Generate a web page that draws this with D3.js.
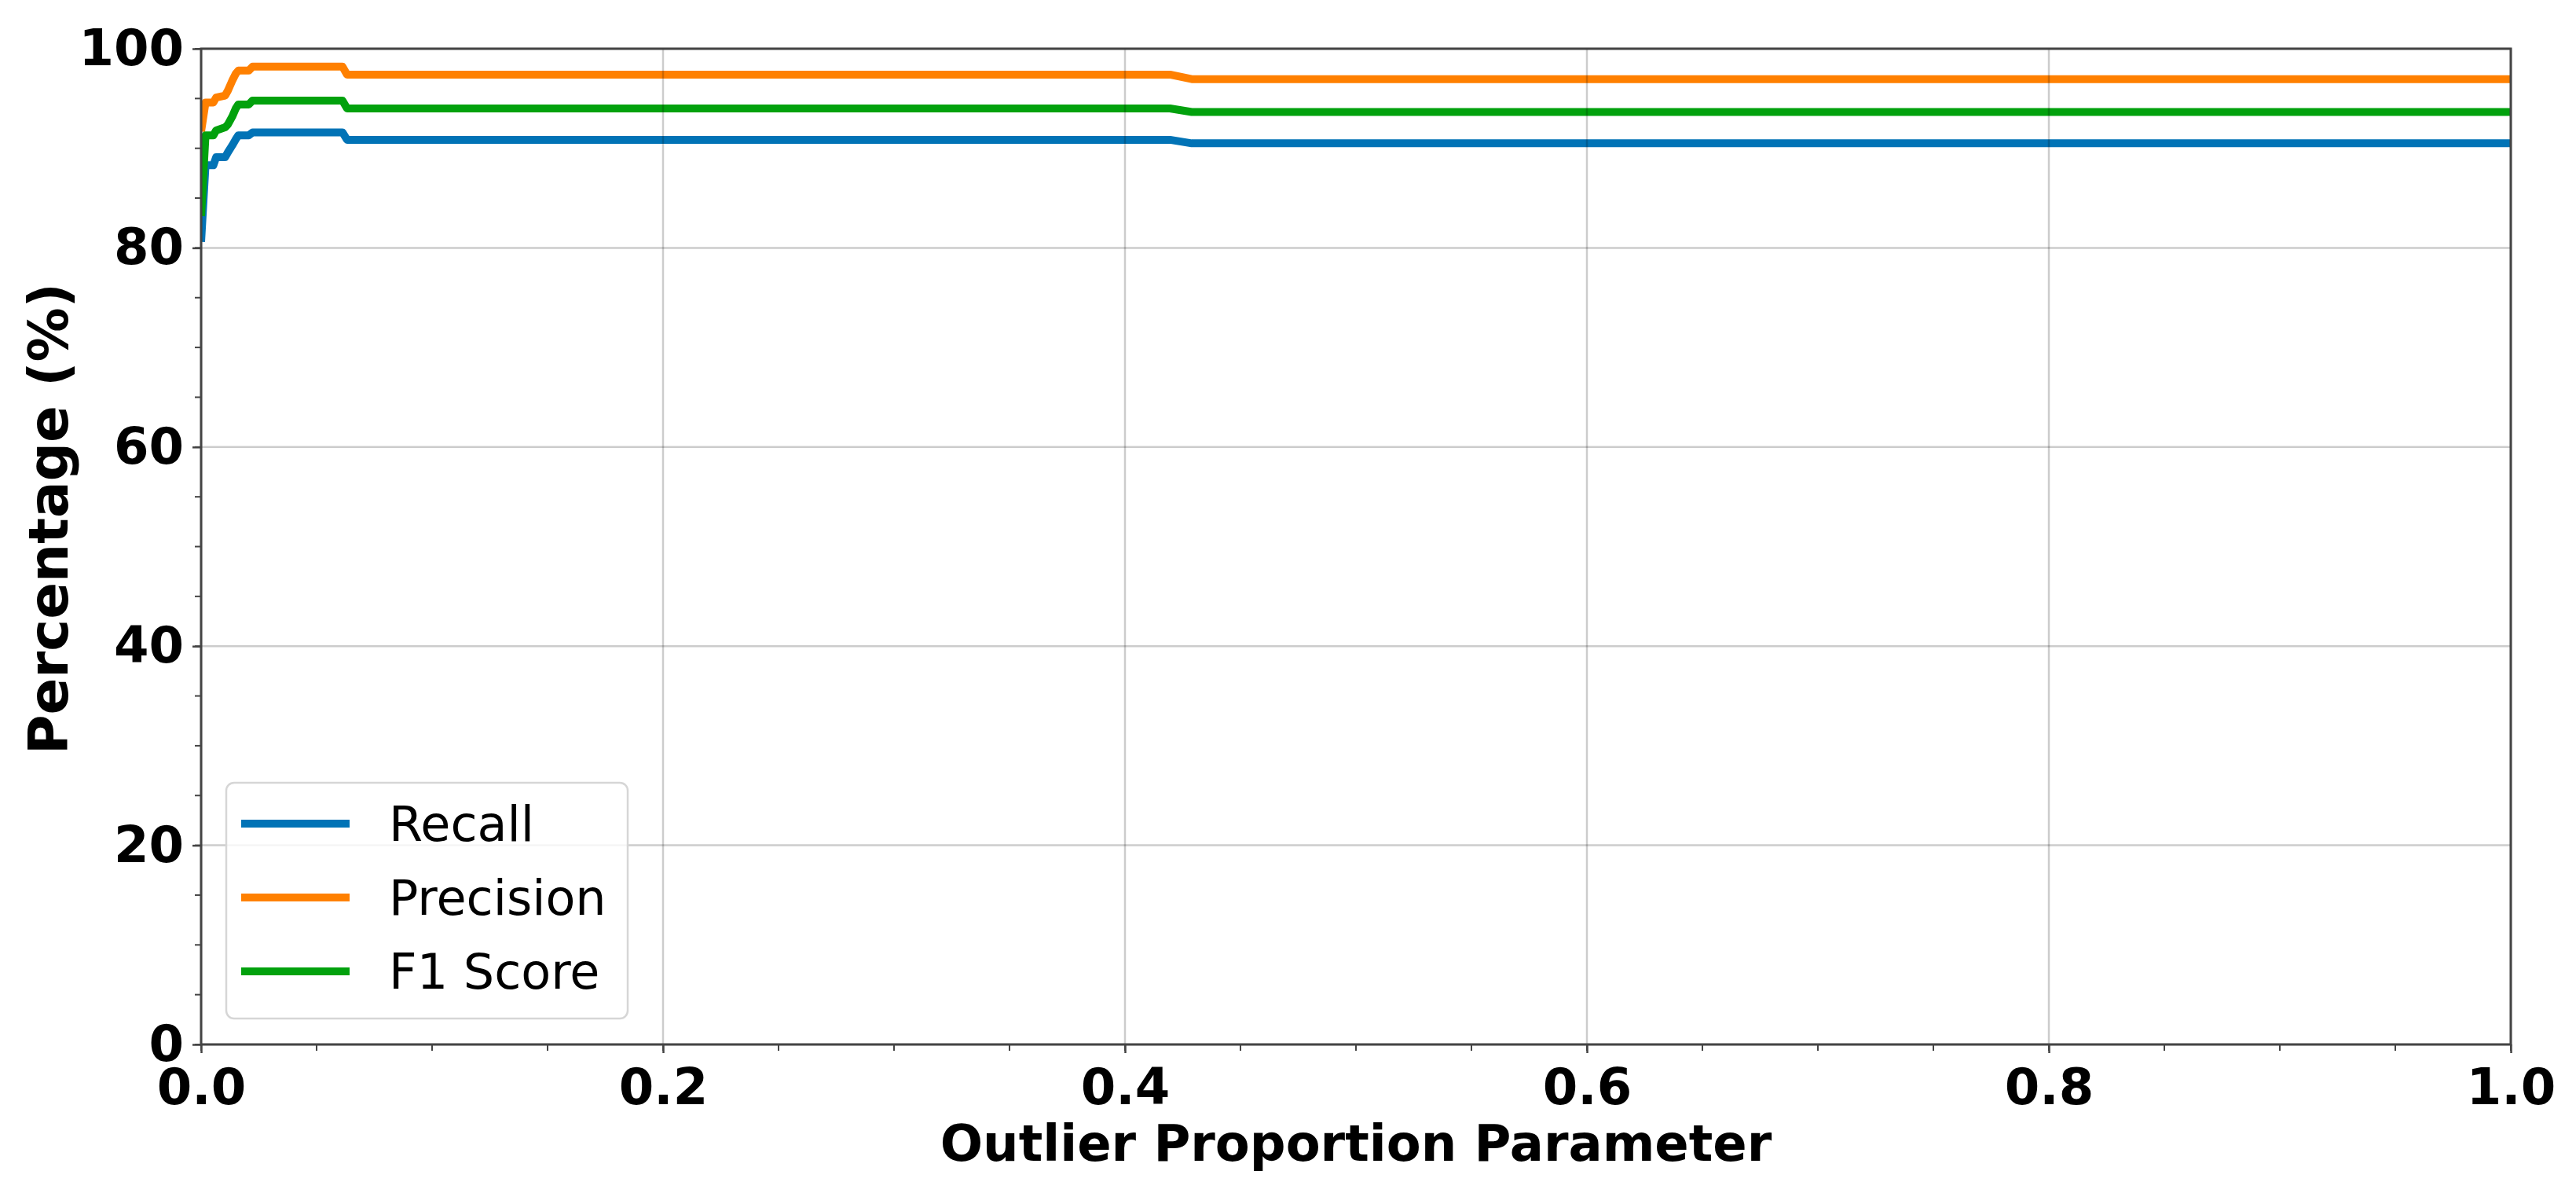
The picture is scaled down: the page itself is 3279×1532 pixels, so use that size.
<!DOCTYPE html>
<html>
<head>
<meta charset="utf-8">
<script src="https://cdn.jsdelivr.net/npm/d3@7"></script>
<style>
  html, body { margin: 0; padding: 0; background: #fff; }
  svg { display: block; }
  text { font-family: "DejaVu Sans", sans-serif; }
</style>
</head>
<body>
<svg id="chart" width="3279" height="1532"></svg>
<script>
// ---- data ----
const xValues   = [0, 0.0019, 0.0053, 0.0065, 0.0104, 0.0116, 0.0135, 0.015, 0.0161, 0.0206, 0.0223, 0.0612, 0.0632, 0.4195, 0.4289, 1.0];
const recall    = [80.6, 88.3, 88.3, 89.1, 89.1, 89.6, 90.3, 90.9, 91.3, 91.3, 91.6, 91.6, 90.85, 90.85, 90.5, 90.5];
const precision = [91.7, 94.6, 94.6, 95.1, 95.3, 95.8, 96.8, 97.5, 97.8, 97.8, 98.2, 98.2, 97.4, 97.4, 96.95, 96.95];
const f1score   = [83.2, 91.3, 91.3, 91.8, 92.1, 92.4, 93.2, 94.0, 94.4, 94.4, 94.8, 94.8, 94.0, 94.0, 93.65, 93.65];
const seriesNames = ["Recall", "Precision", "F1 Score"];
const xTicks = [0, 0.2, 0.4, 0.6, 0.8, 1.0];
const yTicks = [0, 20, 40, 60, 80, 100];
const xMinorTicks = d3.range(0, 1.0001, 0.05);
const yMinorTicks = d3.range(0, 100.001, 5);
const xLabel = "Outlier Proportion Parameter";
const yLabel = "Percentage (%)";

// ---- styles / layout ----
const colors = ["#0173b6", "#ff8000", "#02a10d"];
const M = {left: 256, right: 3196, top: 62, bottom: 1329};
const svg = d3.select("#chart");

const x = d3.scaleLinear().domain([0, 1]).range([M.left, M.right]);
const y = d3.scaleLinear().domain([0, 100]).range([M.bottom, M.top]);

const seriesData = [recall, precision, f1score].map(vals => xValues.map((xv, i) => [xv, vals[i]]));

svg.append("defs").append("clipPath").attr("id", "plotclip")
  .append("rect").attr("x", M.left).attr("y", M.top)
  .attr("width", M.right - M.left).attr("height", M.bottom - M.top);

// lines
const line = d3.line().x(d => x(d[0])).y(d => y(d[1]));
const lineG = svg.append("g").attr("clip-path", "url(#plotclip)");
seriesData.forEach((d, i) => {
  lineG.append("path").datum(d)
    .attr("d", line)
    .attr("fill", "none")
    .attr("stroke", colors[i])
    .attr("stroke-width", 10)
    .attr("stroke-linejoin", "round")
    .attr("stroke-linecap", "butt");
});

// grid (drawn above lines, semi-transparent)
const gridG = svg.append("g");
xTicks.forEach(t => {
  gridG.append("line").attr("x1", x(t)).attr("x2", x(t)).attr("y1", M.top).attr("y2", M.bottom)
    .attr("stroke", "#000").attr("stroke-opacity", 0.2).attr("stroke-width", 2.5);
});
yTicks.forEach(t => {
  gridG.append("line").attr("x1", M.left).attr("x2", M.right).attr("y1", y(t)).attr("y2", y(t))
    .attr("stroke", "#000").attr("stroke-opacity", 0.2).attr("stroke-width", 2.5);
});

// minor ticks
const minorG = svg.append("g").attr("stroke", "#444").attr("stroke-width", 2);
xMinorTicks.forEach(t => {
  minorG.append("line").attr("x1", x(t)).attr("x2", x(t)).attr("y1", M.bottom).attr("y2", M.bottom + 8);
});
yMinorTicks.forEach(t => {
  minorG.append("line").attr("x1", M.left - 8).attr("x2", M.left).attr("y1", y(t)).attr("y2", y(t));
});

// axes
const xAxis = svg.append("g").attr("transform", `translate(0,${M.bottom})`)
  .call(d3.axisBottom(x).tickValues(xTicks).tickFormat(d3.format(".1f")).tickSize(11).tickPadding(20));
const yAxis = svg.append("g").attr("transform", `translate(${M.left},0)`)
  .call(d3.axisLeft(y).tickValues(yTicks).tickFormat(d3.format("d")).tickSize(11).tickPadding(11));
[xAxis, yAxis].forEach(a => {
  a.select(".domain").remove();
  a.selectAll(".tick line").attr("stroke", "#444").attr("stroke-width", 2.5);
  a.selectAll(".tick text").attr("fill", "#000")
    .style("font-family", "'DejaVu Sans', sans-serif")
    .style("font-size", "64px").style("font-weight", "bold");
});

// spines
svg.append("rect").attr("x", M.left).attr("y", M.top)
  .attr("width", M.right - M.left).attr("height", M.bottom - M.top)
  .attr("fill", "none").attr("stroke", "#444").attr("stroke-width", 3);

// axis labels
svg.append("text").attr("x", (M.left + M.right) / 2).attr("y", 1477)
  .attr("text-anchor", "middle").style("font-size", "64px").style("font-weight", "bold")
  .attr("fill", "#000").text(xLabel);
svg.append("text").attr("transform", `translate(86,660) rotate(-90)`)
  .attr("text-anchor", "middle").style("font-size", "69px").style("font-weight", "bold")
  .attr("fill", "#000").text(yLabel);

// legend
const lg = svg.append("g");
lg.append("rect").attr("x", 288).attr("y", 996).attr("width", 511).attr("height", 300)
  .attr("rx", 10).attr("ry", 10)
  .attr("fill", "#fff").attr("fill-opacity", 0.8)
  .attr("stroke", "#d6d6d6").attr("stroke-width", 2.5);
seriesNames.forEach((name, i) => {
  const ly = 1048 + i * 94;
  lg.append("line").attr("x1", 307).attr("x2", 445).attr("y1", ly).attr("y2", ly)
    .attr("stroke", colors[i]).attr("stroke-width", 10);
  lg.append("text").attr("x", 495).attr("y", ly + 22)
    .style("font-size", "62px").attr("fill", "#000").text(name);
});
</script>
</body>
</html>
